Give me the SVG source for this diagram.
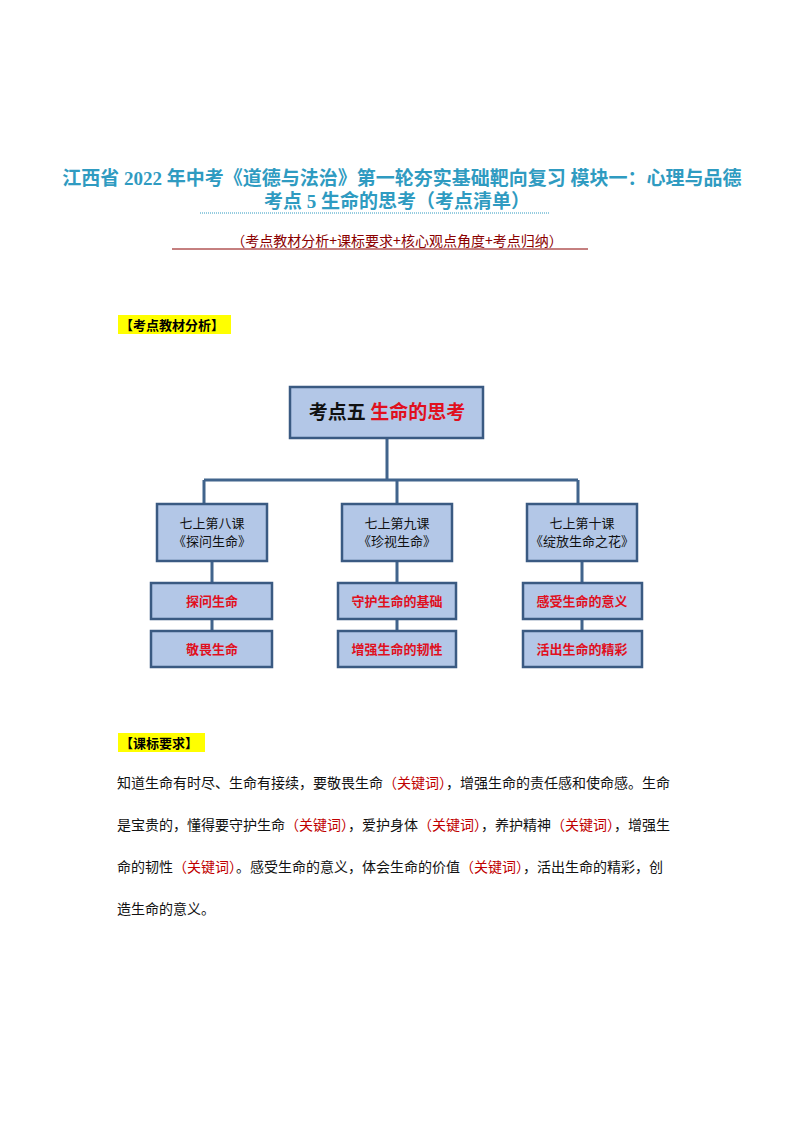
<svg xmlns="http://www.w3.org/2000/svg" width="794" height="1123" viewBox="0 0 794 1123">
<style>
.t{font-family:"Liberation Serif","Noto Sans CJK SC",serif;font-weight:bold;fill:#2f9bc1;font-size:19px;text-anchor:middle}
.b{fill:#b3c7e7;stroke:#3a5a82;stroke-width:2.5}
.c{stroke:#41648c;stroke-width:3;fill:none}
.n{font-family:"Noto Sans CJK SC",sans-serif;font-size:13px;text-anchor:middle;fill:#111}
.r{font-family:"Noto Sans CJK SC",sans-serif;font-size:13px;text-anchor:middle;fill:#e0101e;font-weight:bold}
.p{font-family:"Noto Sans CJK SC",sans-serif;font-size:14px;fill:#111}
.k{fill:#c00000}
.h{font-family:"Noto Sans CJK SC",sans-serif;font-size:13px;font-weight:bold;fill:#000}
</style>
<text class="t" x="402" y="185">江西省 2022 年中考《道德与法治》第一轮夯实基础靶向复习  模块一：心理与品德</text>
<text class="t" x="397" y="208">考点 5  生命的思考（考点清单）</text>
<line x1="200" y1="213" x2="550" y2="213" stroke="#2f9bc1" stroke-dasharray="1,1"/>
<text x="397" y="246" font-family="Noto Sans CJK SC,sans-serif" font-size="14" fill="#8b0000" text-anchor="middle">（考点教材分析+课标要求+核心观点角度+考点归纳）</text>
<line x1="172" y1="249" x2="588" y2="249" stroke="#8b0000"/>
<rect x="118" y="315" width="113" height="19" fill="#ffff00"/>
<text class="h" x="120" y="330">【考点教材分析】</text>
<g id="connectors">
<path class="c" d="M387 438V480M204 480H578M204 480V504M397 480V504M578 480V504M212 561V583M212 619V631M397 561V583M397 619V631M582 561V583M582 619V631"/>
</g>
<g id="root"><rect class="b" x="290" y="387" width="193" height="51"/><text x="387" y="419" font-family="Noto Sans CJK SC,sans-serif" font-size="19" font-weight="bold" text-anchor="middle"><tspan fill="#111">考点五 </tspan><tspan fill="#e0101e">生命的思考</tspan></text></g>
<g id="l8"><rect class="b" x="157" y="504" width="110" height="57"/><text class="n" x="212" y="528">七上第八课</text><text class="n" x="212" y="546">《探问生命》</text></g>
<g id="l9"><rect class="b" x="342" y="504" width="110" height="57"/><text class="n" x="397" y="528">七上第九课</text><text class="n" x="397" y="546">《珍视生命》</text></g>
<g id="l10"><rect class="b" x="527" y="504" width="110" height="57"/><text class="n" x="582" y="528">七上第十课</text><text class="n" x="582" y="546">《绽放生命之花》</text></g>
<g id="a1"><rect class="b" x="151" y="583" width="121" height="36"/><text class="r" x="212" y="606">探问生命</text></g>
<g id="a2"><rect class="b" x="151" y="631" width="121" height="36"/><text class="r" x="212" y="654">敬畏生命</text></g>
<g id="b1"><rect class="b" x="338" y="583" width="118" height="36"/><text class="r" x="397" y="606">守护生命的基础</text></g>
<g id="b2"><rect class="b" x="338" y="631" width="118" height="36"/><text class="r" x="397" y="654">增强生命的韧性</text></g>
<g id="c1"><rect class="b" x="523" y="583" width="119" height="36"/><text class="r" x="582" y="606">感受生命的意义</text></g>
<g id="c2"><rect class="b" x="523" y="631" width="119" height="36"/><text class="r" x="582" y="654">活出生命的精彩</text></g>
<rect x="118" y="733" width="87" height="19" fill="#ffff00"/>
<text class="h" x="120" y="748">【课标要求】</text>
<text class="p" x="117" y="788">知道生命有时尽、生命有接续，要敬畏生命<tspan class="k">（关键词）</tspan>，增强生命的责任感和使命感。生命</text>
<text class="p" x="117" y="830">是宝贵的，懂得要守护生命<tspan class="k">（关键词）</tspan>，爱护身体<tspan class="k">（关键词）</tspan>，养护精神<tspan class="k">（关键词）</tspan>，增强生</text>
<text class="p" x="117" y="872">命的韧性<tspan class="k">（关键词）</tspan>。感受生命的意义，体会生命的价值<tspan class="k">（关键词）</tspan>，活出生命的精彩，创</text>
<text class="p" x="117" y="914">造生命的意义。</text>
</svg>
